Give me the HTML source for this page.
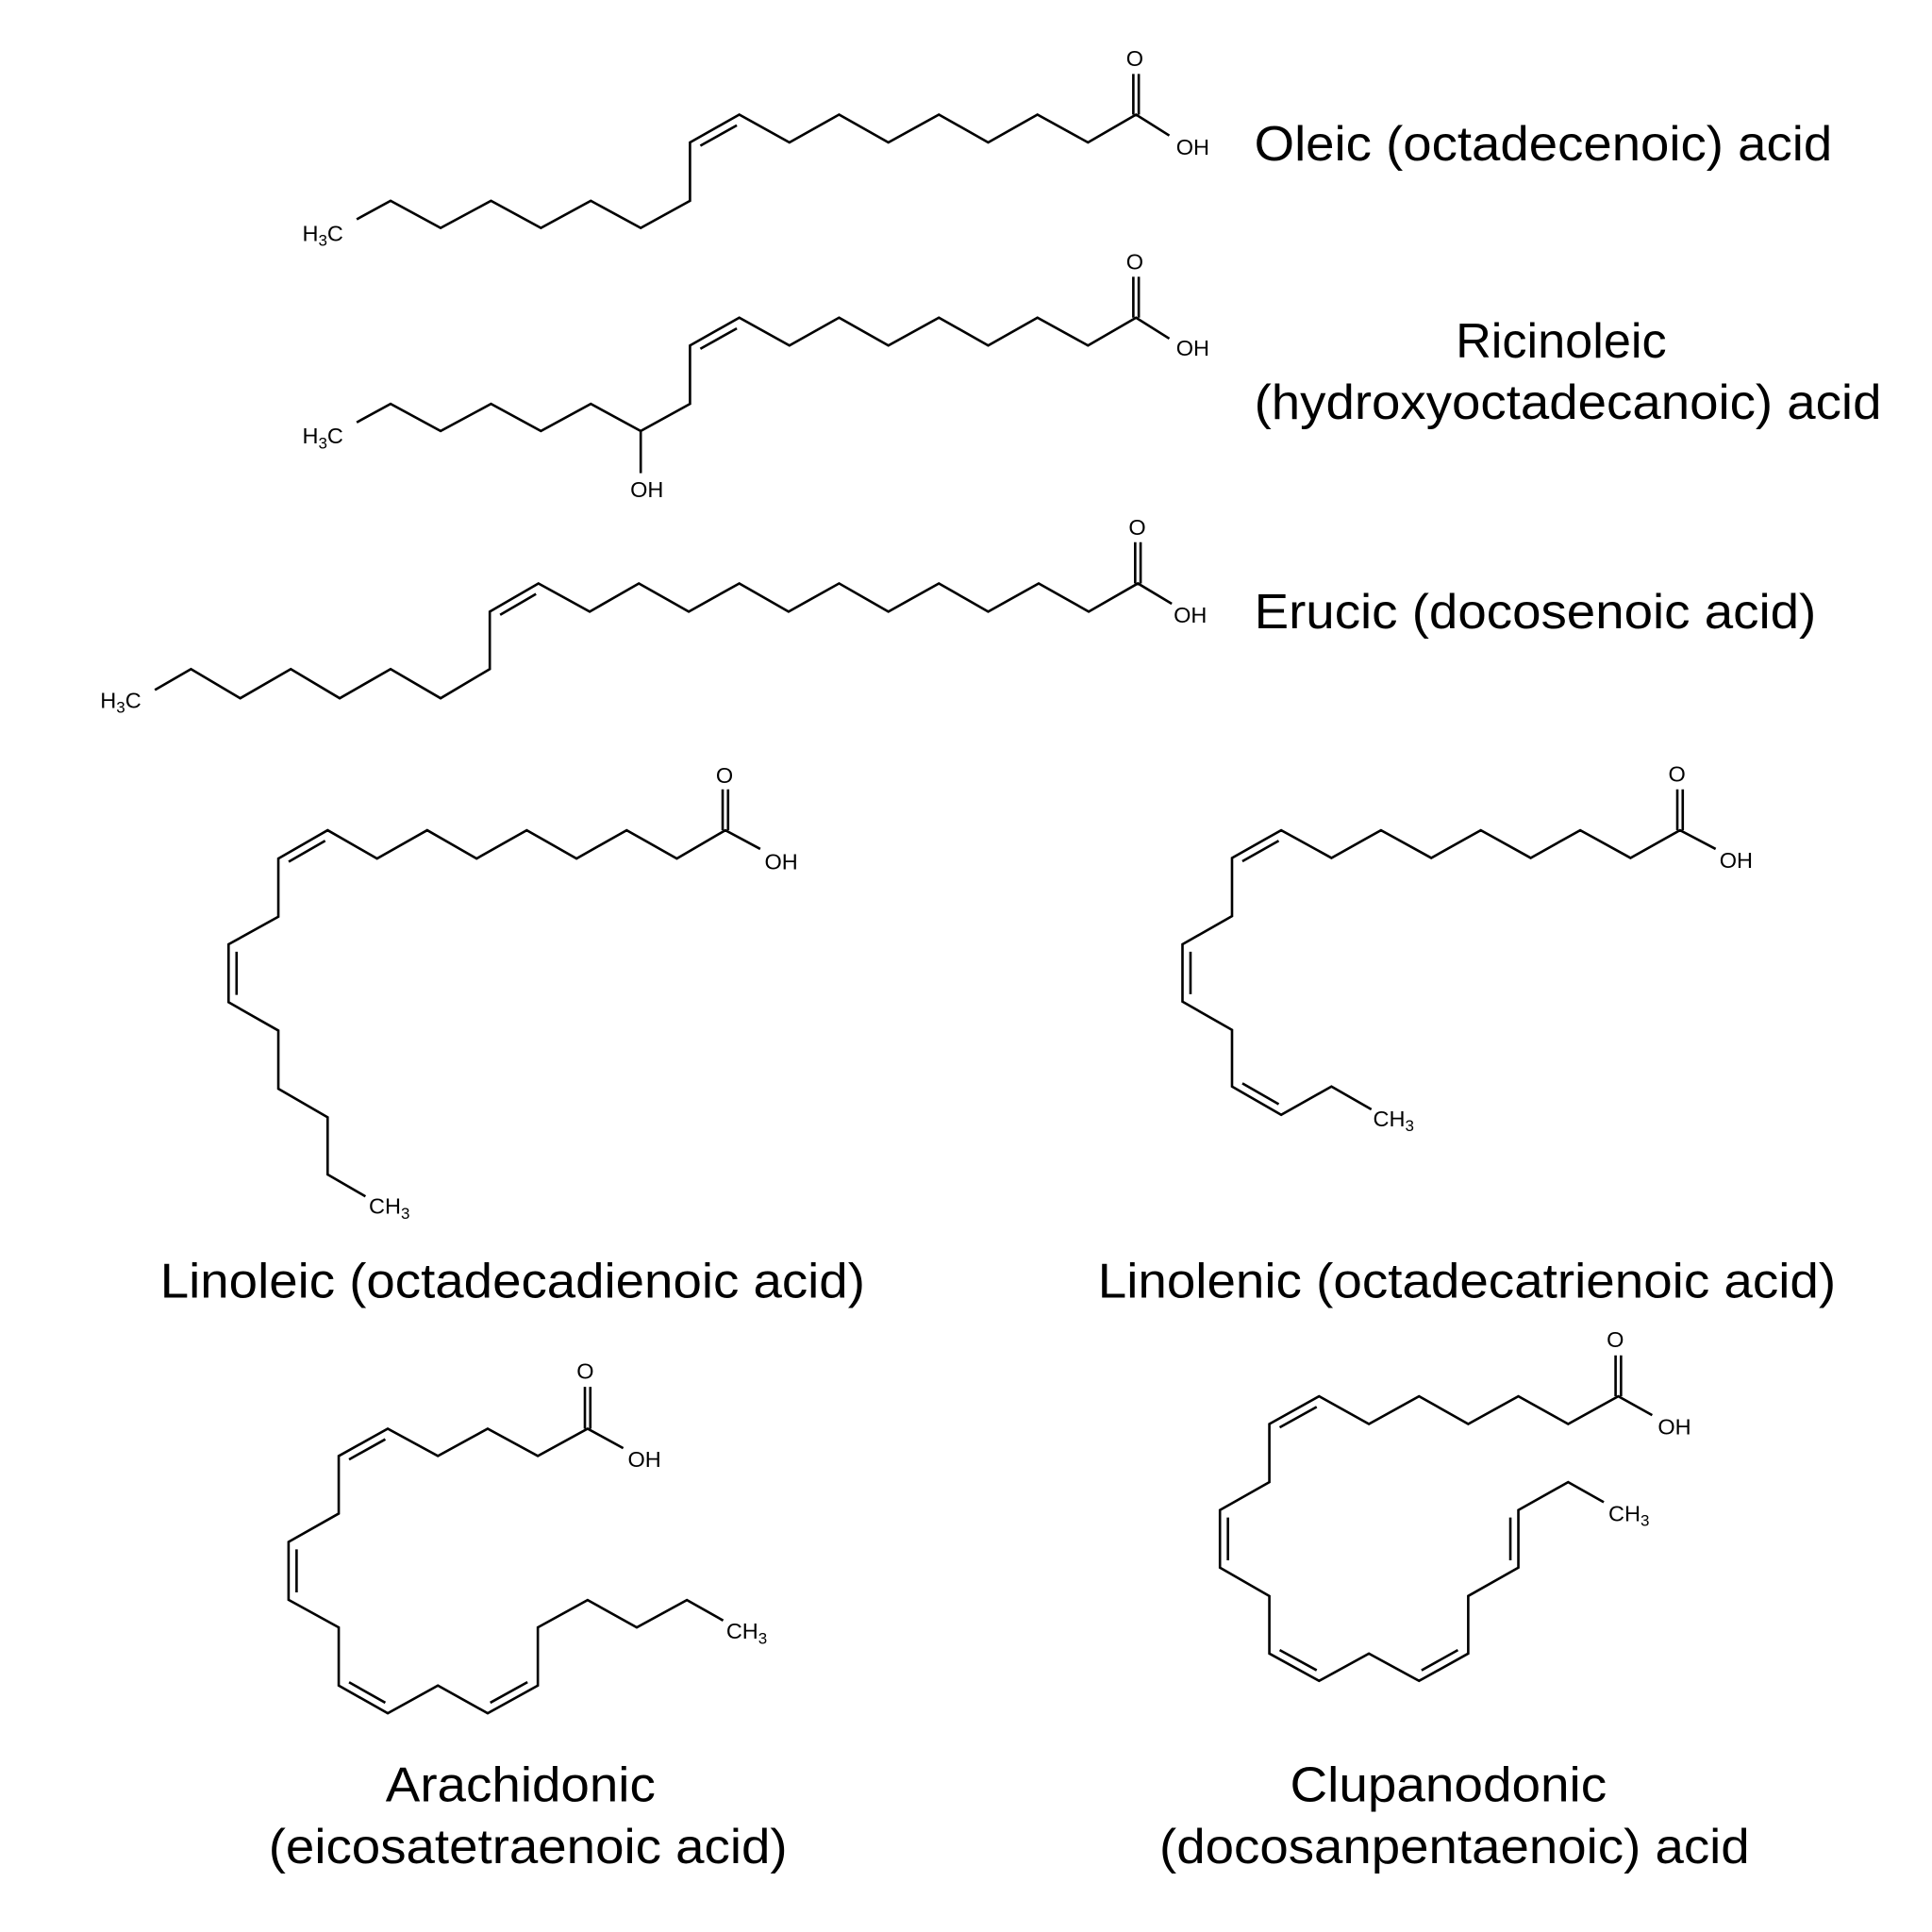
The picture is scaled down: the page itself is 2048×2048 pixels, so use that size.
<!DOCTYPE html>
<html><head><meta charset="utf-8">
<style>
html,body{margin:0;padding:0;background:#fff;}
svg{display:block;}
.b{fill:none;stroke:#000;stroke-width:2;stroke-linejoin:miter;stroke-linecap:butt;}
.a{font-family:"Liberation Sans",sans-serif;font-size:18px;fill:#000;}
.n{font-family:"Liberation Sans",sans-serif;font-size:40px;fill:#000;}
</style></head>
<body>
<svg width="2048" height="2048" viewBox="0 0 1568 1568" xmlns="http://www.w3.org/2000/svg">
<!-- Oleic -->
<g>
<path class="b" d="M289.5,178 L317,163 L357.6,185 L398.5,163 L439,185 L479.5,163 L520,185 L560,163 L560,115.6 L600,93 L640.7,115.6 L681,93 L721,115.6 L762,93 L802,115.6 L842,93 L883,115.6 L922,93 L949,110"/>
<path class="b" d="M568.4,118.3 L598,101.7"/>
<path class="b" d="M919.8,93 L919.8,60 M924.2,93 L924.2,60"/>
<text class="a" x="921" y="53.5" text-anchor="middle">O</text>
<text class="a" x="968" y="125.5" text-anchor="middle">OH</text>
<text class="a" x="262" y="195.5" text-anchor="middle">H<tspan font-size="13" dy="4">3</tspan><tspan dy="-4">C</tspan></text>
</g>
<!-- Ricinoleic -->
<g>
<path class="b" d="M289.5,342.8 L317,327.8 L357.6,349.8 L398.5,327.8 L439,349.8 L479.5,327.8 L520,349.8 L560,327.8 L560,280.4 L600,257.8 L640.7,280.4 L681,257.8 L721,280.4 L762,257.8 L802,280.4 L842,257.8 L883,280.4 L922,257.8 L949,274.8"/>
<path class="b" d="M520,349.8 L520,384"/>
<path class="b" d="M568.4,283.1 L598,266.5"/>
<path class="b" d="M919.8,257.8 L919.8,224.6 M924.2,257.8 L924.2,224.6"/>
<text class="a" x="921" y="218.5" text-anchor="middle">O</text>
<text class="a" x="968" y="288.5" text-anchor="middle">OH</text>
<text class="a" x="525" y="403.5" text-anchor="middle">OH</text>
<text class="a" x="262" y="360" text-anchor="middle">H<tspan font-size="13" dy="4">3</tspan><tspan dy="-4">C</tspan></text>
</g>
<!-- Erucic -->
<g>
<path class="b" d="M125.7,560 L155,543 L195,566.7 L236,543 L275.7,566.7 L317,543 L357.6,566.7 L397.5,543 L397.5,496.4 L437,473.5 L478.6,496.4 L518.5,473.5 L559,496.4 L600,473.5 L640,496.4 L681,473.5 L721,496.4 L762,473.5 L802,496.4 L843,473.5 L883.6,496.4 L923.5,473.5 L951,490"/>
<path class="b" d="M405.9,499 L435,482.1"/>
<path class="b" d="M921.3,473.5 L921.3,440 M925.7,473.5 L925.7,440"/>
<text class="a" x="923" y="434" text-anchor="middle">O</text>
<text class="a" x="966" y="505.5" text-anchor="middle">OH</text>
<text class="a" x="98" y="574.5" text-anchor="middle">H<tspan font-size="13" dy="4">3</tspan><tspan dy="-4">C</tspan></text>
</g>
<!-- Linoleic -->
<g>
<path class="b" d="M296.6,971 L265.9,953.2 L265.9,906.8 L225.9,883.6 L225.9,836.4 L185.5,813.4 L185.5,766.4 L225.9,744 L225.9,696.8 L265.9,673.8 L306,696.8 L346.7,673.8 L386.8,696.8 L427.5,673.8 L467.9,696.8 L508.6,673.8 L549.3,696.8 L588.7,673.8 L617,689"/>
<path class="b" d="M234.3,699.4 L263.9,682.4 M192,772.4 L192,807.4"/>
<path class="b" d="M586.5,673.8 L586.5,640.6 M590.9,673.8 L590.9,640.6"/>
<text class="a" x="588" y="635.5" text-anchor="middle">O</text>
<text class="a" x="634" y="705.5" text-anchor="middle">OH</text>
<text class="a" x="316" y="985" text-anchor="middle">CH<tspan font-size="13" dy="4">3</tspan></text>
</g>
<!-- Linolenic -->
<g>
<path class="b" d="M1113,900.4 L1080.6,881.8 L1039.8,904.8 L999.9,881.8 L999.9,835.9 L959.7,812.9 L959.7,766.4 L999.9,743.5 L999.9,696.3 L1039.8,673.8 L1080.6,696.3 L1120.8,673.8 L1161.6,696.3 L1201.8,673.8 L1242.3,696.3 L1282.5,673.8 L1323.3,696.3 L1363.5,673.8 L1392.4,689"/>
<path class="b" d="M1008.3,699 L1037.8,682.4 M966.2,772.4 L966.2,806.9 M1008.3,879.2 L1037.8,896.2"/>
<path class="b" d="M1361.3,673.8 L1361.3,640.6 M1365.7,673.8 L1365.7,640.6"/>
<text class="a" x="1361" y="634.5" text-anchor="middle">O</text>
<text class="a" x="1409" y="704.5" text-anchor="middle">OH</text>
<text class="a" x="1131" y="914" text-anchor="middle">CH<tspan font-size="13" dy="4">3</tspan></text>
</g>
<!-- Arachidonic -->
<g>
<path class="b" d="M586.9,1315.2 L557.5,1298.6 L516.8,1320.8 L476.9,1298.6 L436.5,1320.8 L436.5,1368 L395.8,1390.5 L355.4,1368 L314.7,1390.5 L274.9,1368 L274.9,1320.8 L234.2,1298.4 L234.2,1251.4 L274.9,1228.4 L274.9,1181.7 L314.7,1159.5 L355.4,1181.7 L395.8,1159.5 L436.5,1181.7 L476.9,1159.5 L505.8,1175.3"/>
<path class="b" d="M283.3,1184.5 L312.7,1168.1 M240.7,1257.4 L240.7,1292.4 M283.3,1365.3 L312.7,1381.9 M397.9,1381.9 L428.1,1365.2"/>
<path class="b" d="M474.7,1159.5 L474.7,1125.6 M479.1,1159.5 L479.1,1125.6"/>
<text class="a" x="475" y="1119" text-anchor="middle">O</text>
<text class="a" x="523" y="1190.5" text-anchor="middle">OH</text>
<text class="a" x="606" y="1330" text-anchor="middle">CH<tspan font-size="13" dy="4">3</tspan></text>
</g>
<!-- Clupanodonic -->
<g>
<path class="b" d="M1301.6,1219.2 L1272.7,1202.9 L1232.3,1225.6 L1232.3,1272.3 L1191.6,1295.3 L1191.6,1342 L1151.7,1364.2 L1111,1342 L1070.6,1364.2 L1030.2,1342 L1030.2,1295.3 L990.1,1272.3 L990.1,1225.6 L1030.2,1202.9 L1030.2,1155.7 L1070.6,1133.2 L1111,1155.7 L1151.7,1133.2 L1191.6,1155.7 L1232.3,1133.2 L1272.7,1155.7 L1313.4,1133.2 L1340.9,1148.5"/>
<path class="b" d="M1038.6,1158.5 L1068.6,1141.8 M996.6,1231.6 L996.6,1266.3 M1038.6,1339.2 L1068.6,1355.6 M1153.7,1355.6 L1183.2,1339.2 M1225.8,1231.6 L1225.8,1266.3"/>
<path class="b" d="M1311.2,1133.2 L1311.2,1100 M1315.6,1133.2 L1315.6,1100"/>
<text class="a" x="1311" y="1093.5" text-anchor="middle">O</text>
<text class="a" x="1359" y="1164" text-anchor="middle">OH</text>
<text class="a" x="1322" y="1234.5" text-anchor="middle">CH<tspan font-size="13" dy="4">3</tspan></text>
</g>
<!-- Names -->
<text class="n" x="1018" y="130" textLength="469" lengthAdjust="spacingAndGlyphs">Oleic (octadecenoic) acid</text>
<text class="n" x="1267" y="290" text-anchor="middle">Ricinoleic</text>
<text class="n" x="1018" y="340" textLength="509" lengthAdjust="spacingAndGlyphs">(hydroxyoctadecanoic) acid</text>
<text class="n" x="1018" y="510" textLength="456" lengthAdjust="spacingAndGlyphs">Erucic (docosenoic acid)</text>
<text class="n" x="130" y="1053" textLength="572" lengthAdjust="spacingAndGlyphs">Linoleic (octadecadienoic acid)</text>
<text class="n" x="891" y="1053" textLength="599" lengthAdjust="spacingAndGlyphs">Linolenic (octadecatrienoic acid)</text>
<text class="n" x="313" y="1462" textLength="219" lengthAdjust="spacingAndGlyphs">Arachidonic</text>
<text class="n" x="218" y="1512" textLength="421" lengthAdjust="spacingAndGlyphs">(eicosatetraenoic acid)</text>
<text class="n" x="1047" y="1462" textLength="257" lengthAdjust="spacingAndGlyphs">Clupanodonic</text>
<text class="n" x="941" y="1512" textLength="479" lengthAdjust="spacingAndGlyphs">(docosanpentaenoic) acid</text>
</svg>
</body></html>
